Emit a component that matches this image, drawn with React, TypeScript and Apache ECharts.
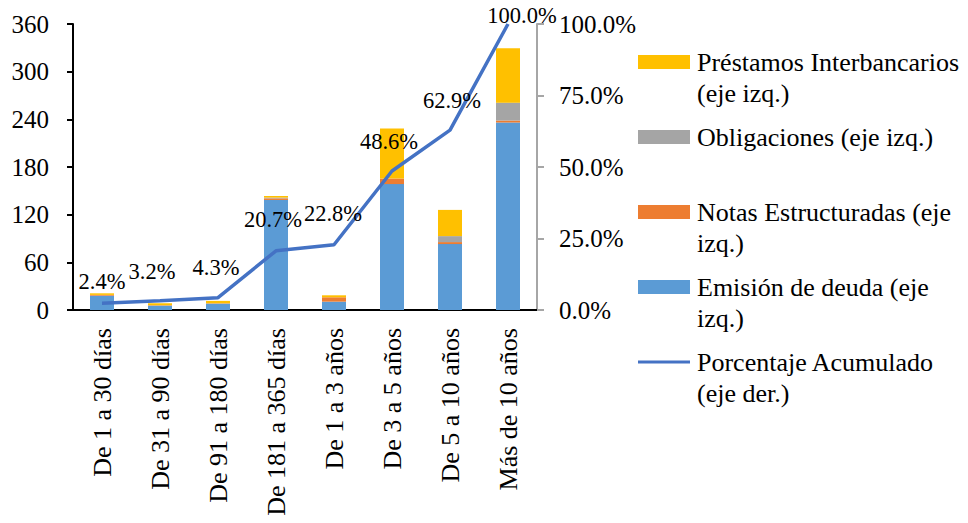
import React, { useEffect, useRef } from "react";
import * as echarts from "echarts";

const categories = [
  "De 1 a 30 días",
  "De 31 a 90 días",
  "De 91 a 180 días",
  "De 181 a 365 días",
  "De 1 a 3 años",
  "De 3 a 5 años",
  "De 5 a 10 años",
  "Más de 10 años",
];
const emisionDeuda = [18, 5.5, 8, 138.5, 10.5, 158.5, 83, 236];
const notasEstructuradas = [1, 0.5, 0.5, 2, 5.5, 7, 2.5, 2.5];
const obligaciones = [0, 0, 0, 1, 0, 0, 7.5, 22.5];
const prestamosInterbancarios = [2, 2.5, 3, 2, 2.5, 63, 33, 68.5];
const porcentajeAcumulado = [2.4, 3.2, 4.3, 20.7, 22.8, 48.6, 62.9, 100.0];
const leftTicks = [0, 60, 120, 180, 240, 300, 360];
const rightTicks = [0, 25, 50, 75, 100];

// label placement (pixels relative to each line point) — style only
const labelOffsets: [number, number][] = [
  [0, -22], [-8, -29], [-2, -30], [-3, -31], [-1, -31], [-3, -30], [2, -30], [14, -9],
];

const legendItems = [
  { lines: ["Préstamos Interbancarios", "(eje izq.)"], color: "#FFC000", kind: "rect", y: 62 },
  { lines: ["Obligaciones (eje izq.)"], color: "#A5A5A5", kind: "rect", y: 137 },
  { lines: ["Notas Estructuradas (eje", "izq.)"], color: "#ED7D31", kind: "rect", y: 212 },
  { lines: ["Emisión de deuda (eje", "izq.)"], color: "#5B9BD5", kind: "rect", y: 287 },
  { lines: ["Porcentaje Acumulado", "(eje der.)"], color: "#4472C4", kind: "line", y: 362 },
];

const FONT = "Liberation Serif";

export default function App() {
  const ref = useRef<HTMLDivElement>(null);
  useEffect(() => {
    if (!ref.current) return;
    const chart = echarts.init(ref.current, null, { renderer: "svg" });
    const barSeries = (name: string, data: number[], color: string) => ({
      name,
      type: "bar",
      stack: "total",
      data,
      barWidth: 24,
      itemStyle: { color },
      yAxisIndex: 0,
    });
    const graphics: any[] = [];
    legendItems.forEach((it) => {
      if (it.kind === "rect") {
        graphics.push({
          type: "rect",
          shape: { x: 638, y: it.y - 7, width: 52, height: 14 },
          style: { fill: it.color },
        });
      } else {
        graphics.push({
          type: "line",
          shape: { x1: 638, y1: it.y, x2: 690, y2: it.y },
          style: { stroke: it.color, lineWidth: 3 },
        });
      }
      it.lines.forEach((ln, i) => {
        graphics.push({
          type: "text",
          x: 697,
          y: it.y + i * 31,
          style: {
            text: ln,
            fill: "#000",
            fontSize: 26,
            fontFamily: FONT,
            verticalAlign: "middle",
            align: "left",
          },
        });
      });
    });
    const lineData = porcentajeAcumulado.map((v, i) => ({
      value: v,
      label: { position: labelOffsets[i] },
    }));
    chart.setOption({
      animation: false,
      textStyle: { fontFamily: FONT },
      grid: { left: 73, right: 431, top: 24, bottom: 213, containLabel: false },
      xAxis: {
        type: "category",
        data: categories,
        axisLine: { lineStyle: { color: "#000", width: 2 } },
        axisTick: { alignWithLabel: true, length: 6, lineStyle: { color: "#000", width: 2 } },
        axisLabel: { rotate: 90, color: "#000", fontSize: 26, fontFamily: FONT, margin: 18, interval: 0 },
      },
      yAxis: [
        {
          type: "value",
          min: 0,
          max: 360,
          interval: 60,
          splitLine: { show: false },
          axisLine: { show: true, lineStyle: { color: "#000", width: 2 } },
          axisTick: { show: true, length: 6, lineStyle: { color: "#000", width: 2 } },
          axisLabel: {
            color: "#000",
            fontSize: 25,
            fontFamily: FONT,
            margin: 24,
            formatter: (v: number) => (leftTicks.includes(v) ? String(v) : ""),
          },
        },
        {
          type: "value",
          min: 0,
          max: 100,
          interval: 25,
          position: "right",
          splitLine: { show: false },
          axisLine: { show: true, lineStyle: { color: "#A6A6A6", width: 2 } },
          axisTick: { show: true, length: 7, lineStyle: { color: "#A6A6A6", width: 2 } },
          axisLabel: {
            color: "#000",
            fontSize: 25,
            fontFamily: FONT,
            margin: 22,
            formatter: (v: number) => (rightTicks.includes(v) ? v.toFixed(1) + "%" : ""),
          },
        },
      ],
      series: [
        barSeries("Emisión de deuda", emisionDeuda, "#5B9BD5"),
        barSeries("Notas Estructuradas", notasEstructuradas, "#ED7D31"),
        barSeries("Obligaciones", obligaciones, "#A5A5A5"),
        barSeries("Préstamos Interbancarios", prestamosInterbancarios, "#FFC000"),
        {
          name: "Porcentaje Acumulado",
          type: "line",
          yAxisIndex: 1,
          data: lineData,
          symbol: "circle",
          symbolSize: 0,
          showSymbol: true,
          lineStyle: { color: "#4472C4", width: 3.5 },
          itemStyle: { color: "#4472C4" },
          z: 5,
          labelLayout: { hideOverlap: false },
          label: {
            show: true,
            align: "center",
            verticalAlign: "middle",
            color: "#000",
            fontSize: 22.5,
            fontFamily: FONT,
            formatter: (p: any) => Number(p.value).toFixed(1) + "%",
          },
        },
      ],
      graphic: graphics,
    });
    return () => chart.dispose();
  }, []);
  return (
    <div
      ref={ref}
      style={{ position: "fixed", left: 0, top: 0, width: 968, height: 523, background: "#fff" }}
    />
  );
}
